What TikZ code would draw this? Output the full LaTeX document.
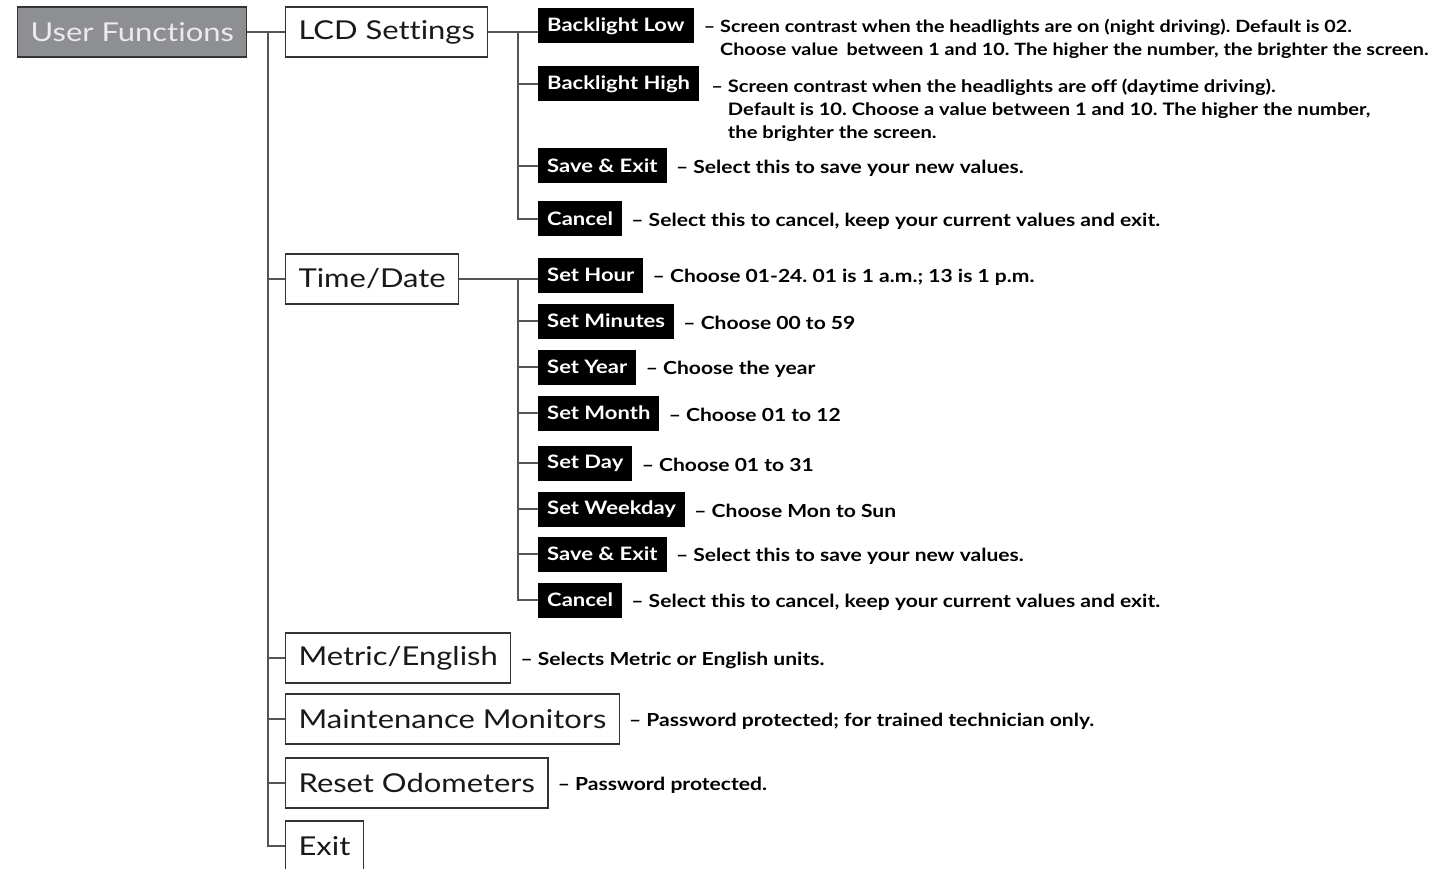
\documentclass[tikz,border=0pt]{standalone}
\usepackage{fontspec}
\setmainfont{Lato}[Ligatures=NoCommon]
\newfontfamily\menufont{Lato}[FakeStretch=1.19, Ligatures=NoCommon]
\newfontfamily\itemfont{Lato}[FakeStretch=1.19, Ligatures=NoCommon]
\newfontfamily\descfont{Lato}[FakeStretch=1.17, Ligatures=NoCommon]
\usetikzlibrary{positioning}
\definecolor{linegray}{HTML}{555555}
\definecolor{rootfill}{HTML}{8E8F93}
\frenchspacing
\tikzset{
  rootbox/.style ={draw=black!80, fill=rootfill, text=black!8, line width=1.2pt, minimum height=50pt, inner xsep=13pt, font=\menufont\fontsize{26}{30}\selectfont},
  menubox/.style ={draw=black!80, fill=white, text=black!90, line width=1.2pt, minimum height=50pt, inner xsep=13pt, font=\menufont\fontsize{26}{30}\selectfont},
  itembox/.style ={fill=black, text=white, minimum height=35pt, inner xsep=9pt, font=\itemfont\fontsize{18.5}{21}\selectfont\bfseries},
  desc/.style    ={font=\descfont\fontsize{18}{23}\selectfont\bfseries, inner sep=0pt, align=left, yshift=-2pt},
  longdesc/.style={desc, font=\descfont\fontsize{17.2}{23}\selectfont\bfseries, anchor=north west},
  conn/.style    ={draw=linegray, line width=1.6pt},
}
\begin{document}
\begin{tikzpicture}[x=1pt, y=-1pt]
  \useasboundingbox (0,0) rectangle (1435,869);
  % top level
  \node[rootbox, anchor=west] (ufun)   at (17,32)  {User Functions};
  \node[menubox, anchor=west] (lcd)    at (285,32) {LCD Settings};
  \node[menubox, anchor=west] (tdate)  at (285,279) {Time/Date};
  \node[menubox, anchor=west] (metric) at (285,658) {Metric/English};
  \node[menubox, anchor=west] (maint)  at (285,719) {Maintenance Monitors};
  \node[menubox, anchor=west] (reset)  at (285,783) {Reset Odometers};
  \node[menubox, anchor=west] (exit)   at (285,846) {Exit};
  \coordinate (trunk) at (268,32);
  \draw[conn] (ufun) -- (lcd);
  \draw[conn] (trunk) |- (exit.west);
  \foreach \n in {tdate, metric, maint, reset}
    \draw[conn] (trunk |- \n.west) -- (\n.west);
  % LCD settings
  \node[itembox, anchor=west] (bllow)  at (538,26)  {Backlight Low};
  \node[itembox, anchor=west] (blhigh) at (538,84)  {Backlight High};
  \node[itembox, anchor=west] (lsave)  at (538,166) {Save \& Exit};
  \node[itembox, anchor=west] (lcanc)  at (538,219) {Cancel};
  \coordinate (lbus) at (518,32);
  \draw[conn] (lcd.east) -- (lcd.east -| bllow.west);
  \draw[conn] (lbus) |- (lcanc.west);
  \foreach \n in {blhigh, lsave}
    \draw[conn] (lbus |- \n.west) -- (\n.west);
  \node[longdesc, font=\descfont\fontsize{16.9}{23}\selectfont\bfseries] at ([xshift=10pt,yshift=-9pt]bllow.north east)
    {– Screen contrast when the headlights are on (night driving). Default is 02.\\
     \phantom{– }Choose value\hspace{0.5em}between 1 and 10. The higher the number, the brighter the screen.};
  \node[longdesc] at ([xshift=12pt,yshift=-10pt]blhigh.north east)
    {– Screen contrast when the headlights are off (daytime driving).\\
     \phantom{– }Default is 10. Choose a value between 1 and 10. The higher the number,\\
     \phantom{– }the brighter the screen.};
  \node[desc, right=9pt of lsave] {– Select this to save your new values.};
  \node[desc, right=9pt of lcanc] {– Select this to cancel, keep your current values and exit.};
  % time and date
  \node[itembox, anchor=west] (shour)  at (538,275) {Set Hour};
  \node[itembox, anchor=west] (smin)   at (538,321) {Set Minutes};
  \node[itembox, anchor=west] (syear)  at (538,367) {Set Year};
  \node[itembox, anchor=west] (smonth) at (538,413) {Set Month};
  \node[itembox, anchor=west] (sday)   at (538,463) {Set Day};
  \node[itembox, anchor=west] (swday)  at (538,509) {Set Weekday};
  \node[itembox, anchor=west] (tsave)  at (538,554) {Save \& Exit};
  \node[itembox, anchor=west] (tcanc)  at (538,600) {Cancel};
  \coordinate (tbus) at (518,279);
  \draw[conn] (tdate.east) -- (tdate.east -| shour.west);
  \draw[conn] (tbus) |- (tcanc.west);
  \foreach \n in {smin, syear, smonth, sday, swday, tsave}
    \draw[conn] (tbus |- \n.west) -- (\n.west);
  \node[desc, right=9pt of shour]  {– Choose 01-24. 01 is 1 a.m.; 13 is 1 p.m.};
  \node[desc, right=9pt of smin]   {– Choose 00 to 59};
  \node[desc, right=9pt of syear]  {– Choose the year};
  \node[desc, right=9pt of smonth] {– Choose 01 to 12};
  \node[desc, right=9pt of sday]   {– Choose 01 to 31};
  \node[desc, right=9pt of swday]  {– Choose Mon to Sun};
  \node[desc, right=9pt of tsave]  {– Select this to save your new values.};
  \node[desc, right=9pt of tcanc]  {– Select this to cancel, keep your current values and exit.};
  % other entries
  \node[desc, right=9pt of metric] {– Selects Metric or English units.};
  \node[desc, right=9pt of maint]  {– Password protected; for trained technician only.};
  \node[desc, right=9pt of reset]  {– Password protected.};
\end{tikzpicture}
\end{document}
